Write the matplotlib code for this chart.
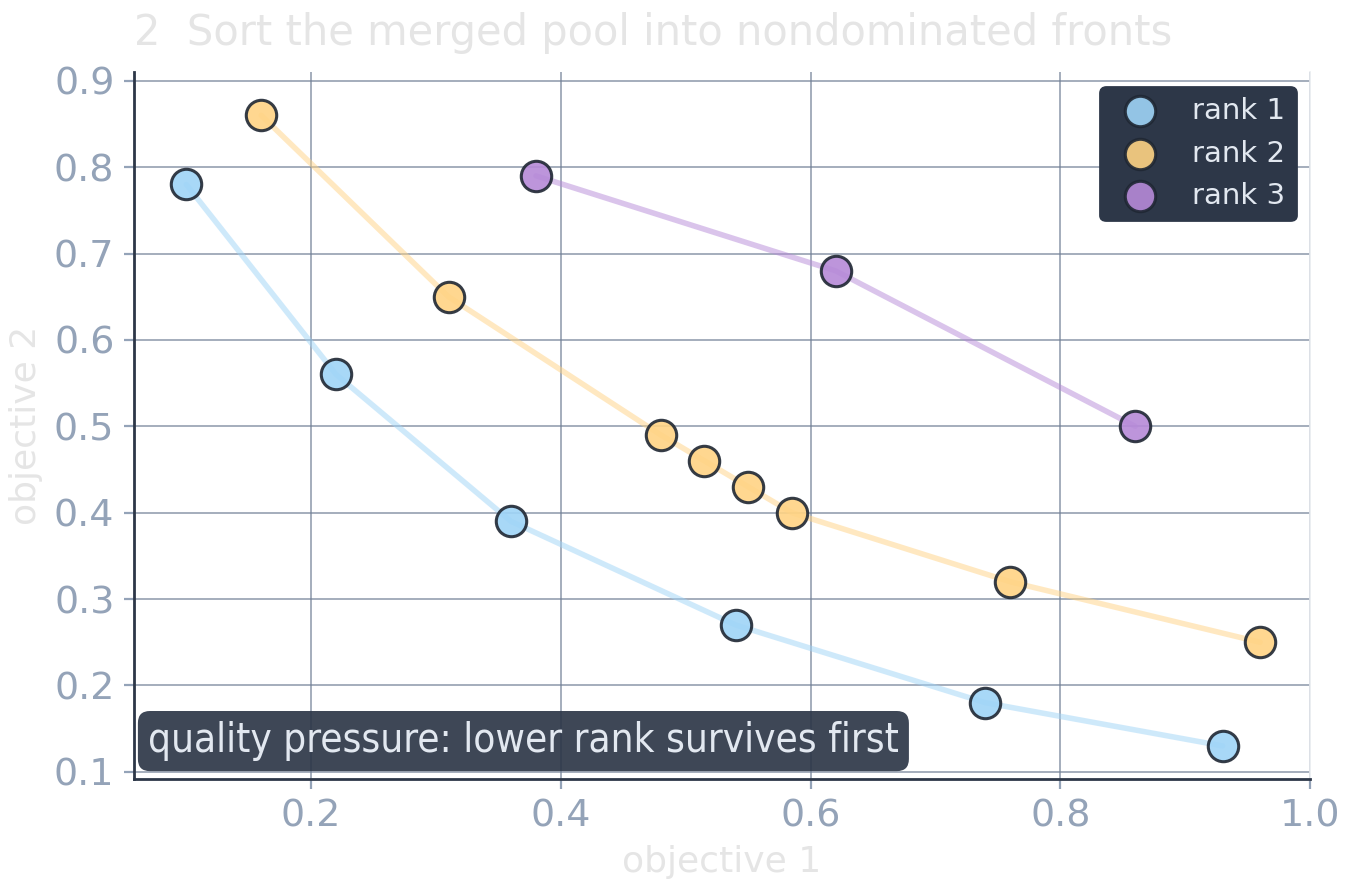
import matplotlib
matplotlib.use("Agg")
import matplotlib.pyplot as plt

# ── Data: nondominated fronts ────────────────────────────────────────────────
rank1_x = [0.10, 0.22, 0.36, 0.54, 0.74, 0.93]
rank1_y = [0.78, 0.56, 0.39, 0.27, 0.18, 0.13]

rank2_x = [0.16, 0.31, 0.48, 0.515, 0.55, 0.585, 0.76, 0.96]
rank2_y = [0.86, 0.65, 0.49, 0.46, 0.43, 0.40, 0.32, 0.25]

rank3_x = [0.38, 0.62, 0.86]
rank3_y = [0.79, 0.68, 0.50]

labels = ["rank 1", "rank 2", "rank 3"]
colors = ["#9fd4f7", "#ffd384", "#b68ad8"]

DARK = "#2d3748"
EDGE = "#1f2733"
TICK = "#94a3b8"
FAINT = "#e5e5e5"

fig, ax = plt.subplots(figsize=(6.76, 4.455), dpi=200)
fig.subplots_adjust(left=0.099, right=0.969, top=0.919, bottom=0.126)

fronts = [(rank1_x, rank1_y), (rank2_x, rank2_y), (rank3_x, rank3_y)]
for (xs, ys), c, lab in zip(fronts, colors, labels):
    ax.plot(xs, ys, color=c, lw=2.0, alpha=0.5, zorder=2, solid_capstyle="round")
    ax.scatter(xs, ys, s=120, color=c, alpha=0.9, edgecolors=EDGE,
               linewidths=1.1, zorder=3, label=lab)

ax.set_xlim(0.058, 1.0)
ax.set_ylim(0.092, 0.910)
ax.set_xticks([0.2, 0.4, 0.6, 0.8, 1.0])
ax.set_yticks([0.1, 0.2, 0.3, 0.4, 0.5, 0.6, 0.7, 0.8, 0.9])

ax.grid(True, color="#718096", alpha=0.75, lw=0.6, zorder=0)
ax.set_axisbelow(True)

ax.tick_params(colors=TICK, labelsize=13.7, length=3.5, width=0.8)
for side in ["left", "bottom"]:
    ax.spines[side].set_color(DARK)
    ax.spines[side].set_linewidth(1.0)
ax.spines["top"].set_visible(False)
ax.spines["right"].set_color("#e8ebef")
ax.spines["right"].set_linewidth(0.6)

ax.set_xlabel("objective 1", color=FAINT, fontsize=13)
ax.set_ylabel("objective 2", color=FAINT, fontsize=13)
ax.set_title("2  Sort the merged pool into nondominated fronts", loc="left",
             color=FAINT, fontsize=15, pad=9.8)

leg = ax.legend(loc="upper right", facecolor=DARK, edgecolor=DARK,
                framealpha=1.0, fontsize=10.5, labelcolor="#e2e8f0",
                borderpad=0.35, handletextpad=0.8, labelspacing=0.5,
                borderaxespad=0.5, markerscale=1.0)
leg.get_frame().set_boxstyle("round,pad=0.0,rounding_size=0.2")

ax.text(0.012, 0.025, "quality pressure: lower rank survives first",
        transform=ax.transAxes, fontsize=14.5, color="#e2e8f0",
        ha="left", va="bottom", fontstretch="condensed", zorder=5,
        bbox=dict(boxstyle="round,pad=0.25,rounding_size=0.3",
                  facecolor=DARK, edgecolor="none", alpha=0.92))

plt.savefig("out.png", dpi=200)
plt.close()
